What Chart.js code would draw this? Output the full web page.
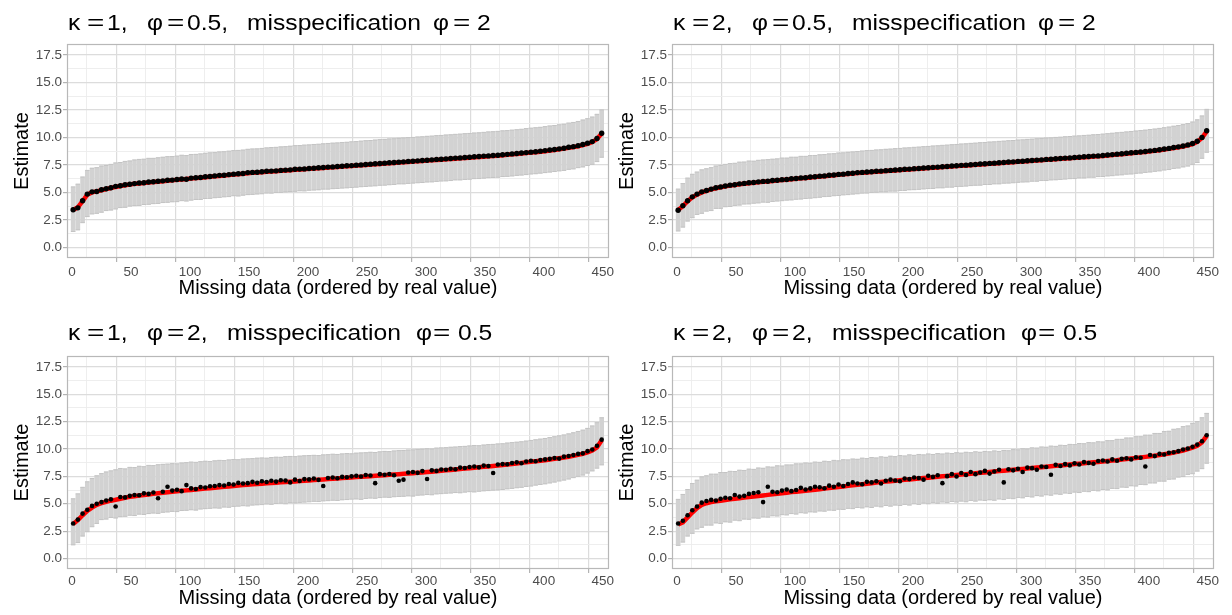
<!DOCTYPE html>
<html>
<head>
<meta charset="utf-8">
<script src="https://cdn.jsdelivr.net/npm/chart.js@4.4.0/dist/chart.umd.min.js"></script>
<style>
  body { margin: 0; background: #fff; }
  #wrap { position: relative; width: 1232px; height: 615px; overflow: hidden; background: #fff; }
  canvas { position: absolute; }
</style>
</head>
<body>
<div id="wrap">
  <canvas id="panelTL" width="616" height="307" style="left:0px;top:0px"></canvas>
  <canvas id="panelTR" width="627" height="307" style="left:605px;top:0px"></canvas>
  <canvas id="panelBL" width="616" height="308" style="left:0px;top:307px"></canvas>
  <canvas id="panelBR" width="627" height="308" style="left:605px;top:307px"></canvas>
</div>
<script>
// position of each missing value (every 4th of the 450 ordered values)
const missingIndex = [1,5,9,13,17,21,25,29,33,37,
  41,45,49,53,57,61,65,69,73,77,
  81,85,89,93,97,101,105,109,113,117,
  121,125,129,133,137,141,145,149,153,157,
  161,165,169,173,177,181,185,189,193,197,
  201,205,209,213,217,221,225,229,233,237,
  241,245,249,253,257,261,265,269,273,277,
  281,285,289,293,297,301,305,309,313,317,
  321,325,329,333,337,341,345,349,353,357,
  361,365,369,373,377,381,385,389,393,397,
  401,405,409,413,417,421,425,429,433,437,
  441,445,449];

const xTickValues = [0,25,50,75,100,125,150,175,200,225,250,275,300,325,350,375,400,425,450];
const yTickValues = [0,1.25,2.5,3.75,5,6.25,7.5,8.75,10,11.25,12.5,13.75,15,16.25,17.5];

// kappa = 1, phi = 0.5, misspecification phi = 2
const realTL = [3.40,3.65,4.20,4.80,5.00,5.10,5.20,5.30,5.40,5.50,
  5.58,5.65,5.72,5.78,5.82,5.86,5.90,5.94,5.98,6.02,
  6.06,6.10,6.14,6.18,6.22,6.26,6.30,6.34,6.38,6.42,
  6.46,6.50,6.54,6.58,6.62,6.66,6.70,6.74,6.78,6.81,
  6.84,6.87,6.90,6.93,6.96,6.99,7.02,7.05,7.08,7.11,
  7.14,7.17,7.20,7.23,7.26,7.29,7.32,7.35,7.38,7.41,
  7.44,7.47,7.50,7.53,7.56,7.59,7.62,7.65,7.68,7.71,
  7.74,7.77,7.80,7.83,7.86,7.89,7.92,7.95,7.98,8.01,
  8.04,8.07,8.10,8.13,8.16,8.19,8.22,8.25,8.28,8.31,
  8.34,8.38,8.42,8.46,8.50,8.54,8.58,8.62,8.66,8.70,
  8.75,8.80,8.86,8.92,8.98,9.05,9.12,9.20,9.30,9.42,
  9.58,9.85,10.35];
const estTL = [3.42,3.60,4.25,4.85,5.05,5.08,5.24,5.33,5.42,5.55,
  5.60,5.70,5.74,5.80,5.86,5.88,5.95,5.97,6.02,6.05,
  6.10,6.12,6.18,6.22,6.20,6.30,6.33,6.36,6.42,6.45,
  6.50,6.55,6.56,6.62,6.66,6.70,6.72,6.80,6.82,6.84,
  6.88,6.92,6.94,6.96,7.00,7.03,7.05,7.10,7.12,7.14,
  7.18,7.20,7.24,7.27,7.30,7.32,7.36,7.38,7.42,7.44,
  7.48,7.50,7.54,7.57,7.60,7.63,7.66,7.70,7.72,7.75,
  7.78,7.82,7.84,7.87,7.90,7.93,7.96,8.00,8.02,8.05,
  8.08,8.12,8.14,8.17,8.20,8.24,8.26,8.30,8.32,8.36,
  8.38,8.42,8.46,8.50,8.54,8.58,8.62,8.66,8.70,8.75,
  8.80,8.85,8.90,8.96,9.02,9.10,9.16,9.25,9.35,9.48,
  9.62,9.90,10.38];
const lowTL = [1.45,1.60,2.25,2.80,3.05,3.10,3.20,3.35,3.40,3.50,
  3.62,3.65,3.76,3.80,3.82,3.90,3.92,3.98,4.00,4.08,
  4.10,4.15,4.16,4.25,4.22,4.30,4.36,4.36,4.45,4.46,
  4.52,4.55,4.60,4.62,4.70,4.68,4.75,4.80,4.82,4.86,
  4.88,4.95,4.94,5.00,5.00,5.05,5.08,5.10,5.15,5.14,
  5.20,5.22,5.24,5.30,5.30,5.34,5.36,5.40,5.42,5.45,
  5.48,5.52,5.54,5.58,5.60,5.65,5.66,5.70,5.72,5.78,
  5.78,5.82,5.85,5.88,5.90,5.95,5.96,6.00,6.04,6.05,
  6.08,6.14,6.14,6.18,6.20,6.25,6.26,6.30,6.34,6.36,
  6.38,6.44,6.46,6.50,6.55,6.58,6.62,6.68,6.70,6.75,
  6.80,6.85,6.90,6.96,7.00,7.10,7.14,7.25,7.32,7.45,
  7.55,7.80,8.20];
const highTL = [5.50,5.75,6.40,7.00,7.20,7.25,7.40,7.45,7.55,7.68,
  7.72,7.82,7.86,7.95,8.00,8.02,8.10,8.10,8.15,8.20,
  8.25,8.26,8.30,8.38,8.35,8.45,8.46,8.50,8.56,8.60,
  8.62,8.68,8.70,8.75,8.80,8.82,8.85,8.92,8.95,8.96,
  9.00,9.05,9.08,9.10,9.14,9.16,9.20,9.25,9.26,9.30,
  9.32,9.36,9.38,9.42,9.45,9.48,9.50,9.54,9.56,9.60,
  9.62,9.66,9.70,9.72,9.76,9.80,9.82,9.86,9.88,9.92,
  9.95,9.98,10.00,10.04,10.06,10.10,10.12,10.16,10.18,10.22,
  10.24,10.28,10.30,10.34,10.36,10.40,10.42,10.46,10.50,10.52,
  10.55,10.60,10.62,10.66,10.70,10.74,10.80,10.84,10.88,10.92,
  10.98,11.04,11.08,11.15,11.20,11.30,11.36,11.45,11.58,11.70,
  11.85,12.10,12.50];

// kappa = 2, phi = 0.5, misspecification phi = 2
const realTR = [3.40,3.75,4.20,4.55,4.80,5.00,5.15,5.28,5.38,5.47,
  5.55,5.62,5.68,5.74,5.79,5.84,5.88,5.92,5.96,6.00,
  6.04,6.08,6.12,6.16,6.20,6.24,6.28,6.32,6.36,6.40,
  6.44,6.48,6.52,6.56,6.60,6.64,6.68,6.72,6.76,6.79,
  6.82,6.85,6.88,6.91,6.94,6.97,7.00,7.03,7.06,7.09,
  7.12,7.15,7.18,7.21,7.24,7.27,7.30,7.33,7.36,7.39,
  7.42,7.45,7.48,7.51,7.54,7.57,7.60,7.63,7.66,7.69,
  7.72,7.75,7.78,7.81,7.84,7.87,7.90,7.93,7.96,7.99,
  8.02,8.05,8.08,8.11,8.14,8.17,8.20,8.23,8.26,8.29,
  8.32,8.36,8.40,8.44,8.48,8.52,8.56,8.60,8.64,8.68,
  8.73,8.78,8.84,8.90,8.96,9.03,9.10,9.18,9.28,9.40,
  9.60,9.95,10.55];
const estTR = [3.38,3.80,4.25,4.60,4.85,5.05,5.18,5.30,5.42,5.50,
  5.58,5.66,5.70,5.78,5.82,5.88,5.90,5.96,6.00,6.02,
  6.08,6.10,6.16,6.18,6.24,6.26,6.32,6.34,6.40,6.42,
  6.48,6.50,6.56,6.58,6.64,6.66,6.72,6.74,6.80,6.82,
  6.86,6.88,6.92,6.94,6.98,7.00,7.04,7.06,7.10,7.12,
  7.16,7.18,7.22,7.24,7.28,7.30,7.34,7.36,7.40,7.42,
  7.46,7.48,7.52,7.54,7.58,7.60,7.64,7.66,7.70,7.72,
  7.76,7.78,7.82,7.84,7.88,7.90,7.94,7.96,8.00,8.02,
  8.06,8.08,8.12,8.14,8.18,8.20,8.24,8.26,8.30,8.32,
  8.36,8.40,8.44,8.48,8.52,8.56,8.60,8.64,8.68,8.72,
  8.78,8.82,8.88,8.94,9.00,9.08,9.14,9.22,9.32,9.45,
  9.65,10.00,10.60];
const lowTR = [1.50,1.85,2.40,2.70,3.00,3.10,3.30,3.35,3.55,3.55,
  3.70,3.72,3.82,3.85,3.95,3.96,4.02,4.05,4.12,4.10,
  4.18,4.22,4.25,4.30,4.32,4.38,4.40,4.45,4.48,4.52,
  4.56,4.62,4.64,4.70,4.72,4.78,4.80,4.85,4.88,4.94,
  4.95,5.00,5.02,5.06,5.06,5.12,5.12,5.18,5.18,5.24,
  5.25,5.28,5.32,5.35,5.36,5.42,5.42,5.48,5.48,5.54,
  5.55,5.58,5.62,5.65,5.66,5.72,5.72,5.78,5.78,5.84,
  5.85,5.88,5.92,5.95,5.96,6.02,6.02,6.08,6.08,6.14,
  6.15,6.18,6.22,6.25,6.26,6.32,6.32,6.38,6.38,6.44,
  6.45,6.50,6.52,6.58,6.60,6.66,6.68,6.74,6.76,6.82,
  6.86,6.92,6.96,7.04,7.08,7.18,7.22,7.32,7.40,7.55,
  7.72,8.10,8.65];
const highTR = [5.30,5.80,6.30,6.65,6.85,7.05,7.15,7.25,7.40,7.45,
  7.55,7.62,7.65,7.75,7.76,7.85,7.84,7.92,7.95,7.98,
  8.02,8.05,8.12,8.12,8.20,8.20,8.28,8.28,8.35,8.36,
  8.42,8.44,8.50,8.52,8.58,8.60,8.65,8.68,8.72,8.76,
  8.80,8.82,8.86,8.88,8.92,8.94,8.98,9.00,9.04,9.06,
  9.10,9.12,9.16,9.18,9.22,9.24,9.28,9.30,9.34,9.36,
  9.40,9.42,9.46,9.48,9.52,9.54,9.58,9.60,9.64,9.66,
  9.70,9.72,9.76,9.78,9.82,9.84,9.88,9.90,9.94,9.96,
  10.00,10.02,10.06,10.08,10.12,10.14,10.18,10.20,10.24,10.26,
  10.30,10.34,10.38,10.42,10.46,10.50,10.54,10.58,10.62,10.66,
  10.72,10.76,10.82,10.88,10.94,11.02,11.08,11.16,11.26,11.40,
  11.60,11.95,12.55];

// kappa = 1, phi = 2, misspecification phi = 0.5
const realBL = [3.15,3.50,3.95,4.35,4.65,4.90,5.05,5.18,5.28,5.36,
  5.46,5.55,5.63,5.69,5.75,5.80,5.85,5.90,5.95,6.00,
  6.05,6.10,6.14,6.18,6.22,6.26,6.30,6.34,6.38,6.42,
  6.46,6.50,6.54,6.58,6.62,6.66,6.70,6.74,6.77,6.80,
  6.83,6.86,6.89,6.92,6.95,6.98,7.01,7.04,7.07,7.10,
  7.13,7.16,7.19,7.22,7.25,7.28,7.31,7.34,7.37,7.40,
  7.43,7.46,7.49,7.52,7.55,7.58,7.61,7.64,7.67,7.70,
  7.73,7.76,7.79,7.82,7.85,7.89,7.93,7.97,8.01,8.05,
  8.09,8.13,8.17,8.21,8.25,8.29,8.33,8.37,8.41,8.45,
  8.49,8.53,8.58,8.63,8.68,8.73,8.78,8.83,8.88,8.93,
  8.98,9.04,9.10,9.16,9.22,9.29,9.37,9.46,9.56,9.68,
  9.85,10.15,10.80];
const estBL = [3.20,3.55,4.10,4.45,4.80,5.00,5.15,5.30,5.40,4.75,
  5.62,5.58,5.72,5.80,5.78,5.95,5.90,6.02,5.50,6.10,
  6.55,6.20,6.28,6.15,6.70,6.40,6.35,6.52,6.48,6.60,
  6.62,6.70,6.66,6.80,6.75,6.90,6.85,6.88,7.00,6.92,
  7.05,6.98,7.10,7.02,7.15,7.12,6.95,7.20,7.08,7.25,
  7.22,7.30,7.18,6.62,7.35,7.40,7.32,7.45,7.42,7.50,
  7.55,7.48,7.62,7.58,6.88,7.70,7.65,7.72,7.60,7.10,
  7.20,7.85,7.90,7.82,7.98,7.26,8.05,8.00,8.12,8.10,
  8.20,8.15,8.30,8.26,8.35,8.40,8.32,8.48,8.45,7.80,
  8.58,8.62,8.60,8.72,8.78,8.70,8.85,8.92,8.88,9.00,
  9.05,9.10,9.18,9.12,9.30,9.36,9.45,9.55,9.60,9.80,
  9.95,10.30,10.85];
const lowBL = [1.25,1.45,2.05,2.45,2.90,3.20,3.55,3.60,3.75,3.70,
  3.82,3.85,3.95,3.92,4.05,4.02,4.10,4.15,4.12,4.22,
  4.25,4.30,4.28,4.38,4.40,4.45,4.42,4.52,4.55,4.58,
  4.62,4.60,4.70,4.68,4.76,4.78,4.82,4.80,4.88,4.90,
  4.92,4.98,4.95,5.02,5.05,5.00,5.10,5.08,5.12,5.15,
  5.18,5.22,5.20,5.26,5.28,5.32,5.30,5.36,5.38,5.42,
  5.44,5.40,5.48,5.52,5.50,5.56,5.60,5.58,5.64,5.66,
  5.68,5.72,5.70,5.78,5.80,5.84,5.82,5.90,5.92,5.96,
  5.98,6.02,6.00,6.06,6.10,6.08,6.14,6.18,6.20,6.24,
  6.26,6.30,6.36,6.40,6.46,6.50,6.58,6.62,6.70,6.76,
  6.82,6.90,6.98,7.08,7.16,7.26,7.38,7.50,7.62,7.80,
  8.00,8.25,8.55];
const highBL = [5.45,5.90,6.50,7.00,7.30,7.55,7.75,7.90,8.00,8.10,
  8.22,8.18,8.32,8.30,8.42,8.38,8.50,8.48,8.56,8.60,
  8.62,8.66,8.64,8.72,8.75,8.80,8.78,8.84,8.88,8.86,
  8.92,8.96,8.94,9.00,9.04,9.02,9.08,9.10,9.12,9.16,
  9.18,9.16,9.22,9.25,9.24,9.30,9.32,9.30,9.35,9.38,
  9.40,9.42,9.40,9.46,9.48,9.52,9.50,9.55,9.58,9.56,
  9.62,9.64,9.66,9.70,9.68,9.74,9.78,9.76,9.82,9.85,
  9.86,9.90,9.92,9.96,9.98,10.02,10.00,10.08,10.10,10.12,
  10.16,10.18,10.22,10.24,10.28,10.32,10.30,10.36,10.40,10.42,
  10.46,10.48,10.54,10.58,10.62,10.66,10.72,10.78,10.84,10.90,
  10.96,11.04,11.12,11.20,11.28,11.38,11.48,11.60,11.72,11.88,
  12.10,12.40,12.85];

// kappa = 2, phi = 2, misspecification phi = 0.5
const realBR = [3.10,3.30,3.75,4.20,4.60,4.90,5.05,5.15,5.22,5.28,
  5.34,5.40,5.46,5.51,5.56,5.61,5.66,5.71,5.76,5.81,
  5.86,5.91,5.96,6.01,6.06,6.10,6.14,6.18,6.23,6.28,
  6.33,6.38,6.43,6.48,6.53,6.58,6.63,6.68,6.73,6.78,
  6.83,6.88,6.93,6.98,7.02,7.06,7.10,7.14,7.18,7.22,
  7.26,7.30,7.34,7.38,7.42,7.46,7.50,7.54,7.58,7.62,
  7.66,7.70,7.74,7.78,7.82,7.86,7.90,7.94,7.98,8.02,
  8.06,8.10,8.14,8.18,8.22,8.26,8.30,8.34,8.38,8.42,
  8.46,8.50,8.54,8.58,8.62,8.66,8.70,8.74,8.78,8.82,
  8.86,8.90,8.94,8.98,9.03,9.08,9.13,9.18,9.23,9.28,
  9.33,9.39,9.45,9.52,9.59,9.67,9.76,9.86,9.98,10.12,
  10.30,10.60,11.20];
const estBR = [3.20,3.45,3.95,4.40,4.75,5.10,5.25,5.35,5.30,5.45,
  5.55,5.50,5.80,5.65,5.72,5.90,5.98,6.05,5.15,6.55,
  6.10,6.05,6.20,6.30,6.15,6.25,6.45,6.30,6.40,6.55,
  6.50,6.42,6.65,6.55,6.75,6.62,6.80,6.95,6.85,6.78,
  7.00,6.95,7.05,6.85,7.10,7.20,7.12,7.05,7.30,7.25,
  7.40,7.35,7.20,7.55,7.45,7.60,6.88,7.52,7.70,7.48,
  7.80,7.62,7.90,7.70,7.85,8.00,7.75,7.95,8.10,6.95,
  8.15,8.05,8.20,7.90,8.30,8.25,8.10,8.40,8.35,7.65,
  8.55,8.45,8.62,8.50,8.70,8.58,8.80,8.72,8.65,8.90,
  8.95,8.85,9.05,8.92,9.10,9.15,9.05,9.25,9.20,8.40,
  9.45,9.35,9.55,9.50,9.65,9.70,9.80,9.95,10.05,10.20,
  10.40,10.70,11.25];
const lowBR = [1.20,1.50,2.05,2.30,2.70,2.85,3.05,3.05,3.25,3.20,
  3.35,3.32,3.50,3.45,3.60,3.58,3.70,3.68,3.80,3.78,
  3.90,3.88,4.00,3.98,4.10,4.06,4.18,4.15,4.26,4.24,
  4.34,4.32,4.42,4.40,4.50,4.48,4.58,4.55,4.66,4.62,
  4.72,4.66,4.78,4.72,4.84,4.78,4.88,4.84,4.94,4.88,
  5.00,4.94,5.06,5.00,5.12,5.04,5.16,5.10,5.20,5.16,
  5.24,5.18,5.30,5.24,5.34,5.30,5.36,5.32,5.44,5.38,
  5.50,5.46,5.58,5.54,5.66,5.62,5.74,5.70,5.82,5.78,
  5.90,5.86,5.98,5.94,6.06,6.02,6.14,6.10,6.22,6.18,
  6.30,6.26,6.40,6.38,6.52,6.50,6.64,6.62,6.76,6.74,
  6.90,6.90,7.06,7.06,7.24,7.26,7.44,7.48,7.68,7.74,
  7.98,8.20,8.70];
const highBR = [5.40,5.85,6.30,6.85,7.15,7.45,7.55,7.70,7.70,7.85,
  7.85,7.96,7.94,8.06,8.04,8.16,8.14,8.26,8.24,8.36,
  8.34,8.46,8.44,8.54,8.54,8.64,8.64,8.72,8.70,8.80,
  8.78,8.88,8.84,8.96,8.92,9.02,9.00,9.08,9.06,9.16,
  9.12,9.22,9.18,9.28,9.24,9.34,9.30,9.40,9.36,9.46,
  9.42,9.50,9.46,9.54,9.50,9.58,9.54,9.62,9.58,9.66,
  9.62,9.70,9.66,9.74,9.70,9.78,9.74,9.82,9.78,9.86,
  9.84,9.94,9.92,10.02,10.00,10.10,10.08,10.18,10.16,10.26,
  10.24,10.34,10.32,10.42,10.40,10.50,10.48,10.58,10.56,10.66,
  10.64,10.76,10.76,10.88,10.88,11.00,11.00,11.12,11.12,11.26,
  11.26,11.42,11.42,11.60,11.62,11.80,11.84,12.04,12.10,12.34,
  12.50,12.85,13.25];

const tickFont = { family: 'Liberation Sans', size: 13.5 };
const axisTitleFont = { family: 'Liberation Sans', size: 20 };
const tickTextColor = '#4d4d4d';
const barColor = '#d2d2d2';
const capColor = '#c4c4c4';

const tickVal = c => (c && c.tick ? c.tick.value : NaN);
const isMajorX = v => v % 50 === 0;
const isMajorY = v => Math.abs(v / 2.5 - Math.round(v / 2.5)) < 1e-6;

// panel border and the title (drawn piece by piece, like plotmath spacing)
const panelDecor = {
  id: 'panelDecor',
  afterDraw(chart, args, opts) {
    const { ctx, chartArea: a } = chart;
    ctx.save();
    ctx.strokeStyle = '#b8b8b8';
    ctx.lineWidth = 1.2;
    ctx.strokeRect(a.left + 0.5, a.top + 0.5, a.right - a.left - 1, a.bottom - a.top - 1);
    ctx.fillStyle = '#000';
    ctx.font = '22px "Liberation Sans", Arial, sans-serif';
    ctx.textBaseline = 'alphabetic';
    (opts.tokens || []).forEach(([txt, dx]) => {
      ctx.save();
      ctx.translate(a.left + dx, opts.baseline);
      ctx.scale(txt === '=' ? 1.35 : 1.12, 1);
      ctx.fillText(txt, 0, 0);
      ctx.restore();
    });
    ctx.restore();
  }
};

function makePanel(canvasId, cfg) {
  const pts = ys => missingIndex.map((x, i) => ({ x: x, y: ys[i] }));
  const capSet = ys => ({
    type: 'line', data: pts(ys), showLine: false, pointStyle: 'line',
    pointRadius: 2.2, pointBorderColor: capColor, pointBorderWidth: 1, order: 2
  });

  new Chart(document.getElementById(canvasId), {
    type: 'bar',
    data: {
      datasets: [
        { type: 'line', data: pts(cfg.est), showLine: false, pointRadius: cfg.dotRadius,
          pointBackgroundColor: '#000', pointBorderWidth: 0, order: 0 },
        { type: 'line', data: pts(cfg.real), borderColor: '#ff0000', borderWidth: 4.5,
          pointRadius: 0, order: 1 },
        capSet(cfg.high),
        capSet(cfg.low),
        { type: 'bar', data: missingIndex.map((x, i) => ({ x: x, y: [cfg.low[i], cfg.high[i]] })),
          backgroundColor: barColor, borderWidth: 0, barThickness: 4, order: 3 }
      ]
    },
    options: {
      responsive: false,
      animation: false,
      devicePixelRatio: 1,
      events: [],
      layout: { padding: { left: 0, right: cfg.rightPad, top: cfg.topPad, bottom: 0 } },
      plugins: {
        legend: { display: false },
        tooltip: { enabled: false },
        panelDecor: { tokens: cfg.title, baseline: cfg.titleBaseline }
      },
      scales: {
        x: {
          type: 'linear', min: -4.2, max: 455.2, offset: false, bounds: 'data',
          afterBuildTicks: s => { s.ticks = xTickValues.map(v => ({ value: v })); },
          afterFit: s => { s.height = cfg.xAxisHeight; s.paddingLeft = 0; s.paddingRight = 0; },
          ticks: {
            autoSkip: false, maxRotation: 0, padding: cfg.xTickPad,
            color: tickTextColor, font: tickFont,
            callback: v => isMajorX(v) ? String(v) : ''
          },
          grid: {
            color: c => isMajorX(tickVal(c)) ? '#dcdcdc' : '#ececec',
            lineWidth: c => isMajorX(tickVal(c)) ? 1.2 : 0.9,
            tickColor: c => isMajorX(tickVal(c)) ? '#b3b3b3' : 'rgba(0,0,0,0)',
            tickLength: 4
          },
          border: { display: false },
          title: {
            display: true, text: 'Missing data (ordered by real value)', color: '#000',
            font: axisTitleFont, padding: { top: 0, bottom: cfg.xTitlePad }
          }
        },
        y: {
          type: 'linear', min: -0.96, max: 18.49, bounds: 'data',
          afterBuildTicks: s => { s.ticks = yTickValues.map(v => ({ value: v })); },
          afterFit: s => { s.width = 67; s.paddingTop = 0; s.paddingBottom = 0; },
          ticks: {
            autoSkip: false, padding: 1, color: tickTextColor, font: tickFont,
            callback: v => isMajorY(v) ? v.toFixed(1) : ''
          },
          grid: {
            color: c => isMajorY(tickVal(c)) ? '#dcdcdc' : '#ececec',
            lineWidth: c => isMajorY(tickVal(c)) ? 1.2 : 0.9,
            tickColor: c => isMajorY(tickVal(c)) ? '#b3b3b3' : 'rgba(0,0,0,0)',
            tickLength: 4
          },
          border: { display: false },
          title: {
            display: true, text: 'Estimate', color: '#000',
            font: axisTitleFont, padding: { top: 10, bottom: 0 }
          }
        }
      }
    },
    plugins: [panelDecor]
  });
}

const titleTop = k => [['κ', 1], ['=', 20], [k + ',', 40], ['φ', 80], ['=', 100], ['0.5,', 120],
  ['misspecification', 180], ['φ', 366], ['=', 386], ['2', 410]];
const titleBottom = k => [['κ', 1], ['=', 20], [k + ',', 40], ['φ', 80], ['=', 100], ['2,', 120],
  ['misspecification', 160], ['φ', 349], ['=', 366], ['0.5', 391]];

const topRow = { rightPad: 7, topPad: 44, xAxisHeight: 49, titleBaseline: 29.5, xTickPad: 2, xTitlePad: 7, dotRadius: 2.7 };
const bottomRow = { rightPad: 7, topPad: 49, xAxisHeight: 46, titleBaseline: 32.5, xTickPad: 0, xTitlePad: 5, dotRadius: 2.3 };

makePanel('panelTL', Object.assign({}, topRow, { title: titleTop('1'), real: realTL, est: estTL, low: lowTL, high: highTL }));
makePanel('panelTR', Object.assign({}, topRow, { rightPad: 18, title: titleTop('2'), real: realTR, est: estTR, low: lowTR, high: highTR }));
makePanel('panelBL', Object.assign({}, bottomRow, { title: titleBottom('1'), real: realBL, est: estBL, low: lowBL, high: highBL }));
makePanel('panelBR', Object.assign({}, bottomRow, { rightPad: 18, title: titleBottom('2'), real: realBR, est: estBR, low: lowBR, high: highBR }));
</script>
</body>
</html>
